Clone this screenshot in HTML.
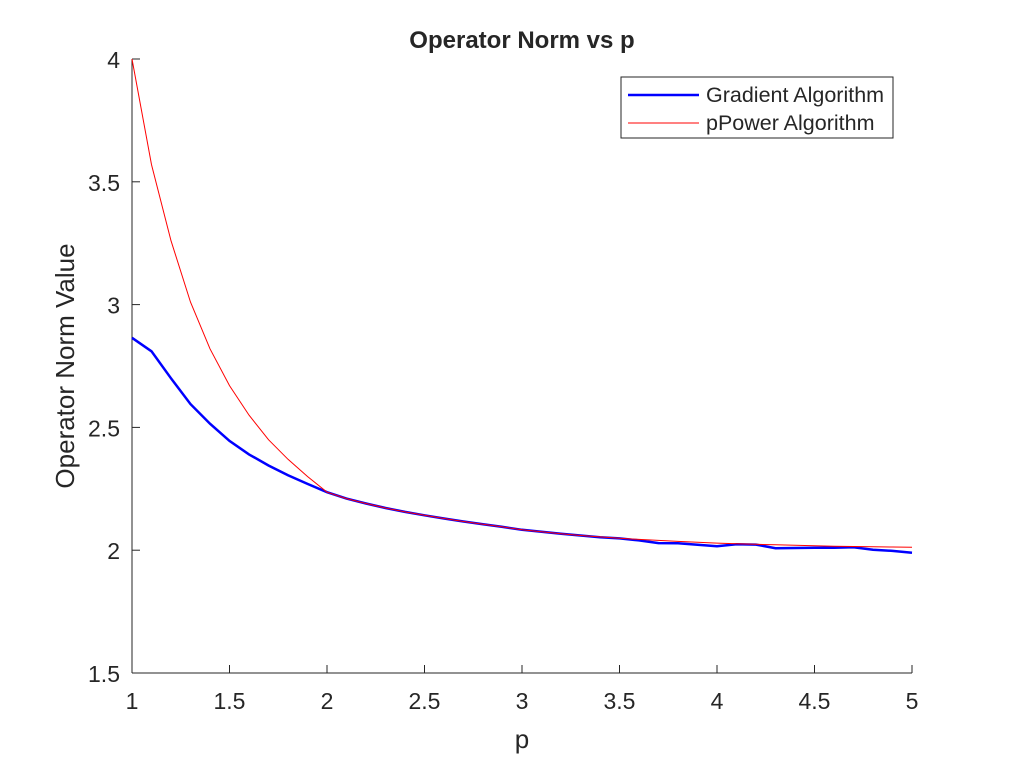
<!DOCTYPE html>
<html><head><meta charset="utf-8"><style>body{margin:0;background:#fff}svg{display:block}text{font-family:"Liberation Sans",sans-serif;fill:#262626}</style></head>
<body>
<svg id="chart" width="1009" height="757" xmlns="http://www.w3.org/2000/svg">
<rect width="1009" height="757" fill="#fff"/>
<text x="522" y="48" text-anchor="middle" font-size="24" font-weight="bold" fill="#000">Operator Norm vs p</text>
<g id="axes"></g>
<g id="series"></g>
<g>
<rect x="621" y="77" width="272" height="61" fill="#fff" stroke="#262626" stroke-width="1"/>
<line x1="628" y1="95" x2="699" y2="95" stroke="#0000ff" stroke-width="2.5"/>
<text x="706" y="102" font-size="21.5">Gradient Algorithm</text>
<line x1="628" y1="123" x2="699" y2="123" stroke="#ff0000" stroke-width="1"/>
<text x="706" y="130" font-size="21.5">pPower Algorithm</text>
</g>
</svg>
<script>
const pValues=[1,1.1,1.2,1.3,1.4,1.5,1.6,1.7,1.8,1.9,2,2.1,2.2,2.3,2.4,2.5,2.6,2.7,2.8,2.9,3,3.1,3.2,3.3,3.4,3.5,3.6,3.7,3.8,3.9,4,4.1,4.2,4.3,4.4,4.5,4.6,4.7,4.8,4.9,5];
const gradientValues=[2.865,2.81,2.70,2.595,2.515,2.445,2.39,2.345,2.305,2.27,2.236,2.21,2.19,2.172,2.156,2.142,2.129,2.117,2.106,2.095,2.083,2.075,2.067,2.06,2.053,2.048,2.04,2.029,2.028,2.022,2.016,2.024,2.023,2.008,2.009,2.01,2.01,2.012,2.002,1.997,1.99];
const ppowerValues=[4.0,3.57,3.26,3.01,2.82,2.67,2.55,2.45,2.37,2.30,2.236,2.21,2.19,2.172,2.156,2.142,2.129,2.117,2.106,2.095,2.083,2.075,2.067,2.06,2.054,2.049,2.044,2.04,2.036,2.032,2.029,2.026,2.024,2.022,2.02,2.018,2.016,2.015,2.014,2.013,2.012];
const xTicks=[1,1.5,2,2.5,3,3.5,4,4.5,5];
const yTicks=[1.5,2,2.5,3,3.5,4];
const X0=132,X1=912,Y0=673,Y1=59;
const xs=v=>X0+(v-1)/4*(X1-X0);
const ys=v=>Y0-(v-1.5)/2.5*(Y0-Y1);
const NS='http://www.w3.org/2000/svg';
const ax=document.getElementById('axes'),se=document.getElementById('series');
function mk(tag,at,par){const e=document.createElementNS(NS,tag);for(const k in at)e.setAttribute(k,at[k]);par.appendChild(e);return e;}
let l=mk('line',{x1:X0,y1:Y0,x2:X1,y2:Y0,stroke:'#262626'},ax);


l=mk('line',{x1:X0,y1:Y0,x2:X0,y2:Y1,stroke:'#262626'},ax);


xTicks.forEach(t=>{const x=xs(t);mk('line',{x1:x,y1:Y0,x2:x,y2:Y0-8,stroke:'#262626'},ax);
const tx=mk('text',{x:x,y:709,'text-anchor':'middle','font-size':'23'},ax);tx.textContent=t;

});
yTicks.forEach(t=>{const y=ys(t);mk('line',{x1:X0,y1:y,x2:X0+8,y2:y,stroke:'#262626'},ax);
const tx=mk('text',{x:120,y:y+9,'text-anchor':'end','font-size':'23'},ax);tx.textContent=t;

});
let t=mk('text',{x:522,y:748,'text-anchor':'middle','font-size':'26'},ax);t.textContent='p';


t=mk('text',{x:74,y:366,'text-anchor':'middle','font-size':'26',transform:'rotate(-90 74 366)'},ax);t.textContent='Operator Norm Value';


const pts=a=>a.map((v,i)=>xs(pValues[i]).toFixed(1)+','+ys(v).toFixed(1)).join(' ');
let p=mk('polyline',{points:pts(gradientValues),fill:'none',stroke:'#0000ff','stroke-width':2.5},se);


p=mk('polyline',{points:pts(ppowerValues),fill:'none',stroke:'#ff0000','stroke-width':1},se);


</script>
</body></html>
